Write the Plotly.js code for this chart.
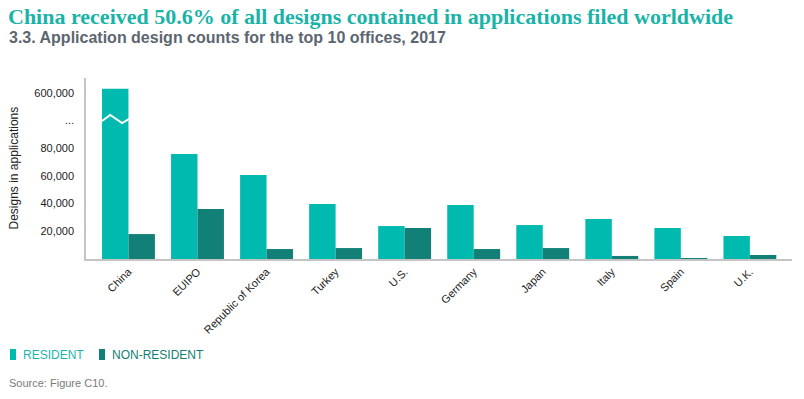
<!DOCTYPE html>
<html>
<head>
<meta charset="utf-8">
<script src="https://cdn.plot.ly/plotly-3.0.1.min.js"></script>
<style>
html,body{margin:0;padding:0;background:#fff;}
#chart{width:804px;height:399px;}
</style>
</head>
<body>
<div id="chart"></div>
<script>
// ---- data ----
const offices = ["China","EUIPO","Republic of Korea","Turkey","U.S.","Germany","Japan","Italy","Spain","U.K."];
const resident = [603000, 75800, 60600, 39700, 23800, 39000, 24500, 28900, 22400, 16600];
const nonResident = [18000, 36100, 7200, 7900, 22400, 7200, 7900, 2200, 700, 2900];
const seriesNames = ["RESIDENT", "NON-RESIDENT"];
const tickValues = [20000, 40000, 60000, 80000, 100000, 600000];
const tickLabels = ["20,000", "40,000", "60,000", "80,000", "...", "600,000"];

// ---- broken axis: values above the break are shifted down ----
const BREAK_LOW = 100000;     // last value shown on the linear part
const BREAK_SHIFT = 480000;   // 600,000 drawn where 120,000 would be
function disp(v){ return v > BREAK_LOW ? v - BREAK_SHIFT : v; }

const colRes = "#00b9af";
const colNon = "#128077";

// plot area in pixels
const W = 804, H = 399;
const L = 86, R = 792, T = 78, B = 259;
function px(x){ return (x - L) / (R - L); }
function py(y){ return (B - y) / (B - T); }

const traces = [
  {type:"bar", name:seriesNames[0], x:offices, y:resident.map(disp), customdata:resident,
   marker:{color:colRes}, hovertemplate:"%{x}: %{customdata:,}<extra>"+seriesNames[0]+"</extra>"},
  {type:"bar", name:seriesNames[1], x:offices, y:nonResident.map(disp), customdata:nonResident,
   marker:{color:colNon}, hovertemplate:"%{x}: %{customdata:,}<extra>"+seriesNames[1]+"</extra>"}
];

const bargap = 0.234;
const barW = (1 - bargap) / 2;
// zigzag break marker on the China resident bar
const zx0 = -barW, zx1 = 0;
const zz = [
  [zx0, BREAK_LOW - 400],
  [zx0 + (zx1 - zx0) * 0.31, BREAK_LOW + 4000],
  [zx0 + (zx1 - zx0) * 0.76, BREAK_LOW - 1800],
  [zx1 + 0.01, BREAK_LOW + 1100]
];
const zpath = "M " + zz.map(p => p[0] + "," + p[1]).join(" L ");

const font = "Liberation Sans, Arial, sans-serif";

const layout = {
  width: W, height: H,
  margin: {l: L, r: W - R, t: T, b: H - B},
  paper_bgcolor: "#fff", plot_bgcolor: "#fff",
  showlegend: false,
  barmode: "group", bargap: bargap, bargroupgap: 0,
  font: {family: font, color: "#222", size: 11},
  xaxis: {
    type: "category", range: [-0.615, 9.61],
    showline: true, linecolor: "#c4c4c4", linewidth: 2,
    showgrid: false, zeroline: false, ticks: "",
    tickangle: -45, tickfont: {family: font, size: 11, color: "#222"},
    fixedrange: true
  },
  yaxis: {
    range: [0, 130700],
    showline: true, linecolor: "#c4c4c4", linewidth: 1.5,
    showgrid: false, zeroline: false, ticks: "",
    tickvals: tickValues.map(disp), ticktext: tickLabels,
    tickfont: {family: font, size: 11, color: "#222"},
    ticklabelstandoff: 8,
    fixedrange: true
  },
  shapes: [
    {type: "path", xref: "x", yref: "y", path: zpath, line: {color: "#fff", width: 2}},
    // legend swatches
    {type: "rect", xref: "paper", yref: "paper", x0: px(10), x1: px(16), y0: py(349), y1: py(360), fillcolor: colRes, line: {width: 0}},
    {type: "rect", xref: "paper", yref: "paper", x0: px(99), x1: px(105), y0: py(349), y1: py(360), fillcolor: colNon, line: {width: 0}}
  ],
  annotations: [
    {text: "<b>China received 50.6% of all designs contained in applications filed worldwide</b>",
     xref: "paper", yref: "paper", x: px(6), y: py(16), xanchor: "left", yanchor: "middle", showarrow: false,
     font: {family: "Liberation Serif, serif", size: 22, color: "#1ab3a8"}},
    {text: "<b>3.3. Application design counts for the top 10 offices, 2017</b>",
     xref: "paper", yref: "paper", x: px(7), y: py(37.5), xanchor: "left", yanchor: "middle", showarrow: false,
     font: {family: font, size: 16, color: "#5c6670"}},
    {text: "Designs in applications", textangle: -90,
     xref: "paper", yref: "paper", x: px(13), y: py(168.5), xanchor: "center", yanchor: "middle", showarrow: false,
     font: {family: font, size: 12, color: "#222"}},
    {text: seriesNames[0], xref: "paper", yref: "paper", x: px(21), y: py(355), xanchor: "left", yanchor: "middle", showarrow: false,
     font: {family: font, size: 12, color: "#1ab5aa"}},
    {text: seriesNames[1], xref: "paper", yref: "paper", x: px(110), y: py(355), xanchor: "left", yanchor: "middle", showarrow: false,
     font: {family: font, size: 12, color: "#127f76"}},
    {text: "Source: Figure C10.", xref: "paper", yref: "paper", x: px(7), y: py(383), xanchor: "left", yanchor: "middle", showarrow: false,
     font: {family: font, size: 11, color: "#7a7a7a"}}
  ]
};

Plotly.newPlot("chart", traces, layout, {displayModeBar: false, responsive: false});
</script>
</body>
</html>
